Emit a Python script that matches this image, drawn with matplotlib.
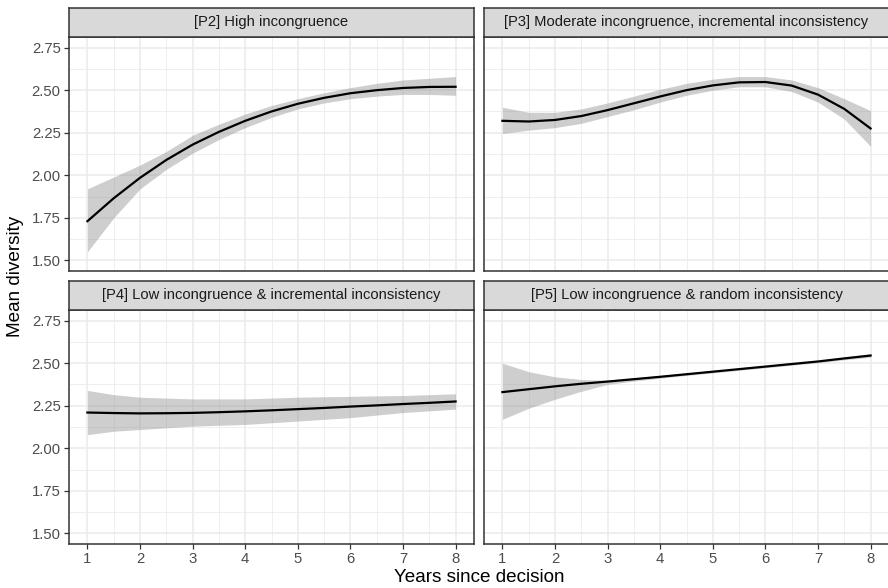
import matplotlib
matplotlib.use("Agg")
import matplotlib.pyplot as plt
import numpy as np

plt.rcParams['font.family'] = ['Liberation Sans', 'DejaVu Sans']

years = [1, 1.5, 2, 2.5, 3, 3.5, 4, 4.5, 5, 5.5, 6, 6.5, 7, 7.5, 8]

titles = ["[P2] High incongruence",
          "[P3] Moderate incongruence, incremental inconsistency",
          "[P4] Low incongruence & incremental inconsistency",
          "[P5] Low incongruence & random inconsistency"]

p2_fit = [1.73, 1.865, 1.985, 2.09, 2.18, 2.255, 2.32, 2.375, 2.42, 2.455, 2.482, 2.50, 2.513, 2.519, 2.52]
p2_lo = [1.55, 1.75, 1.92, 2.035, 2.13, 2.21, 2.28, 2.34, 2.39, 2.425, 2.45, 2.465, 2.475, 2.475, 2.47]
p2_hi = [1.92, 1.99, 2.06, 2.14, 2.235, 2.30, 2.36, 2.41, 2.45, 2.485, 2.515, 2.54, 2.56, 2.57, 2.58]

p3_fit = [2.32, 2.316, 2.325, 2.348, 2.383, 2.423, 2.463, 2.50, 2.528, 2.546, 2.548, 2.527, 2.474, 2.39, 2.275]
p3_lo = [2.245, 2.265, 2.28, 2.305, 2.345, 2.385, 2.43, 2.47, 2.50, 2.52, 2.52, 2.492, 2.43, 2.33, 2.17]
p3_hi = [2.40, 2.37, 2.37, 2.39, 2.425, 2.465, 2.505, 2.54, 2.565, 2.58, 2.58, 2.56, 2.515, 2.45, 2.38]

p4_fit = [2.21, 2.207, 2.205, 2.206, 2.208, 2.212, 2.217, 2.223, 2.23, 2.237, 2.245, 2.252, 2.26, 2.267, 2.275]
p4_lo = [2.08, 2.10, 2.11, 2.12, 2.13, 2.135, 2.14, 2.15, 2.16, 2.17, 2.18, 2.195, 2.21, 2.22, 2.23]
p4_hi = [2.34, 2.315, 2.30, 2.295, 2.29, 2.29, 2.29, 2.295, 2.30, 2.303, 2.305, 2.308, 2.31, 2.315, 2.32]

p5_fit = [2.33, 2.347, 2.364, 2.379, 2.392, 2.406, 2.42, 2.435, 2.45, 2.465, 2.48, 2.495, 2.51, 2.528, 2.545]
p5_lo = [2.17, 2.235, 2.288, 2.335, 2.375, 2.395, 2.412, 2.428, 2.443, 2.458, 2.473, 2.488, 2.503, 2.52, 2.535]
p5_hi = [2.50, 2.45, 2.42, 2.404, 2.40, 2.413, 2.428, 2.443, 2.457, 2.472, 2.487, 2.502, 2.517, 2.536, 2.555]

fits = [p2_fit, p3_fit, p4_fit, p5_fit]
los = [p2_lo, p3_lo, p4_lo, p5_lo]
his = [p2_hi, p3_hi, p4_hi, p5_hi]

x_ticks = [1, 2, 3, 4, 5, 6, 7, 8]
y_ticks = [1.50, 1.75, 2.00, 2.25, 2.50, 2.75]
y_ticklabels = ["1.50", "1.75", "2.00", "2.25", "2.50", "2.75"]

W, H = 888, 588
fig = plt.figure(figsize=(W / 100, H / 100), dpi=100)

col_x = [(69, 474), (484, 889)]
row_y = [(37, 271, 7.5), (310, 544, 281)]  # panel top, panel bottom, strip top

border = "#333333"
for i in range(4):
    r, c = divmod(i, 2)
    x0, x1 = col_x[c]
    ptop, pbot, stop = row_y[r]
    ax = fig.add_axes([x0 / W, 1 - pbot / H, (x1 - x0) / W, (pbot - ptop) / H])
    ax.set_xlim(0.65, 8.35)
    ax.set_ylim(1.4375, 2.8125)
    ax.set_xticks(x_ticks)
    ax.set_yticks(y_ticks)
    ax.set_xticks([1.5, 2.5, 3.5, 4.5, 5.5, 6.5, 7.5], minor=True)
    ax.set_yticks([1.625, 1.875, 2.125, 2.375, 2.625], minor=True)
    ax.grid(which='major', color='#EBEBEB', linewidth=1.1)
    ax.grid(which='minor', color='#EBEBEB', linewidth=0.55)
    ax.set_axisbelow(True)
    ax.fill_between(years, los[i], his[i], color='#999999', alpha=0.48, linewidth=0)
    ax.plot(years, fits[i], color='black', linewidth=1.6, solid_joinstyle='round')
    for s in ax.spines.values():
        s.set_color(border)
        s.set_linewidth(1.1)
    ax.tick_params(which='major', length=3.5, width=0.9, color=border, labelcolor='#4D4D4D', labelsize=10.7, pad=2.5)
    ax.tick_params(which='minor', length=0)
    if c == 0:
        ax.set_yticklabels(y_ticklabels)
    else:
        ax.tick_params(axis='y', which='major', labelleft=False, length=0)
    if r == 1:
        ax.set_xticklabels([str(v) for v in x_ticks])
    else:
        ax.tick_params(axis='x', which='major', labelbottom=False, length=0)
    # strip
    sax = fig.add_axes([x0 / W, 1 - ptop / H, (x1 - x0) / W, (ptop - stop) / H])
    sax.set_facecolor('#D9D9D9')
    sax.set_xticks([])
    sax.set_yticks([])
    for s in sax.spines.values():
        s.set_color(border)
        s.set_linewidth(1.1)
    sax.text(0.5, 0.5, titles[i], ha='center', va='center', fontsize=10.6, color='#1A1A1A', transform=sax.transAxes)

fig.text(479 / W, 1 - 578 / H, "Years since decision", ha='center', va='center', fontsize=13.6, color='black')
fig.text(16 / W, 1 - 276 / H, "Mean diversity", ha='center', va='center', rotation=90, fontsize=13.6, color='black')

fig.savefig("out.png", dpi=100)
